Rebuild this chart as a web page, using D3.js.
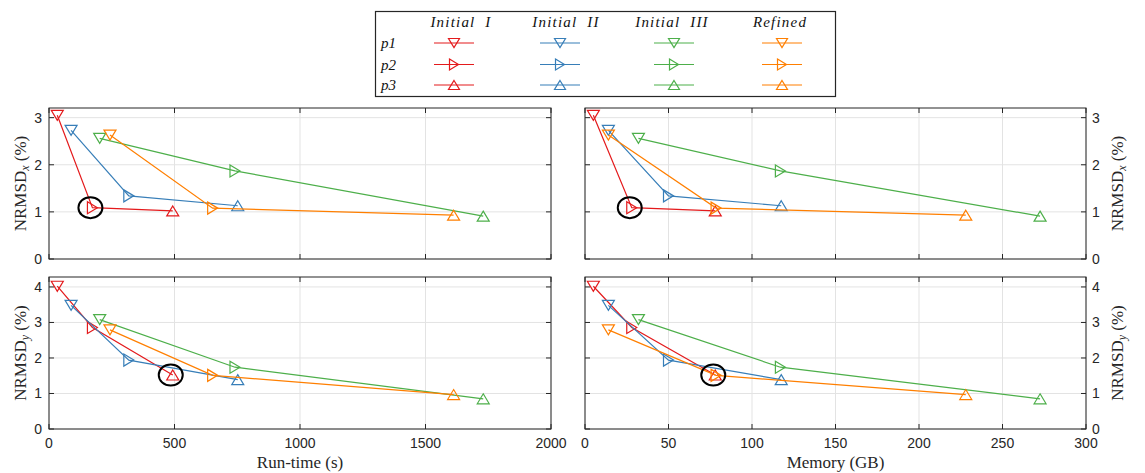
<!DOCTYPE html>
<html>
<head>
<meta charset="utf-8">
<script src="https://cdn.jsdelivr.net/npm/d3@7"></script>
<style>
  body { margin: 0; background: #fff; }
  svg { display: block; }
</style>
</head>
<body>
<div id="chart"></div>
<script>
// series and values
const seriesNames = ["Initial  I", "Initial  II", "Initial  III", "Refined"];
const pointNames = ["p1", "p2", "p3"];
const colors = ["#e41a1c", "#377eb8", "#4daf4a", "#ff7f00"];

// run-time (s) per series, points p1..p3
const runtime = [[33, 173, 493], [88, 318, 752], [202, 741, 1730], [243, 652, 1612]];
// memory (GB)
const memory = [[5, 28, 78], [14, 50, 117.5], [32, 117, 272.5], [14, 78.5, 228]];
// NRMSD_x (%)
const nrmsdX = [[3.05, 1.09, 1.02], [2.73, 1.34, 1.13], [2.56, 1.87, 0.91], [2.63, 1.08, 0.93]];
// NRMSD_y (%)
const nrmsdY = [[4.02, 2.86, 1.52], [3.48, 1.94, 1.39], [3.08, 1.74, 0.85], [2.79, 1.51, 0.97]];

const runTicks = [0, 500, 1000, 1500, 2000];
const memTicks = [0, 50, 100, 150, 200, 250, 300];
const xTicksY = [0, 1, 2, 3];
const yTicksY = [0, 1, 2, 3, 4];

// circled points: [series, point]
const circled = [[0, 1], [0, 1], [0, 2], [0, 2]];

const W = 1145, H = 473;
const svg = d3.select("#chart").append("svg")
    .attr("width", W)
    .attr("height", H);

const axisColor = "#262626";
const tickFont = "'Liberation Sans', Arial, sans-serif";
const serif = "'Liberation Serif', 'Times New Roman', serif";

// triangle marker path, dir = down / right / up
function tri(dir, w, h) {
    if (dir === "down") return `M${-w / 2},${-h / 2}L${w / 2},${-h / 2}L0,${h / 2}Z`;
    if (dir === "up") return `M0,${-h / 2}L${w / 2},${h / 2}L${-w / 2},${h / 2}Z`;
    return `M${-h / 2},${-w / 2}L${h / 2},0L${-h / 2},${w / 2}Z`;
}
const dirs = ["down", "right", "up"];

const panels = [
    { left: 49, right: 551, top: 108, bottom: 259, xs: runtime, ys: nrmsdX, xDom: [0, 2000], yDom: [0, 3.205], xt: runTicks, yt: xTicksY, side: "left", xLabels: false, sub: "x", circ: circled[0] },
    { left: 585, right: 1086, top: 108, bottom: 259, xs: memory, ys: nrmsdX, xDom: [0, 300], yDom: [0, 3.205], xt: memTicks, yt: xTicksY, side: "right", xLabels: false, sub: "x", circ: circled[1] },
    { left: 49, right: 551, top: 277, bottom: 429, xs: runtime, ys: nrmsdY, xDom: [0, 2000], yDom: [0, 4.28], xt: runTicks, yt: yTicksY, side: "left", xLabels: true, sub: "y", xTitle: "Run-time (s)", circ: circled[2] },
    { left: 585, right: 1086, top: 277, bottom: 429, xs: memory, ys: nrmsdY, xDom: [0, 300], yDom: [0, 4.28], xt: memTicks, yt: yTicksY, side: "right", xLabels: true, sub: "y", xTitle: "Memory (GB)", circ: circled[3] }
];

panels.forEach(p => {
    const x = d3.scaleLinear().domain(p.xDom).range([p.left, p.right]);
    const y = d3.scaleLinear().domain(p.yDom).range([p.bottom, p.top]);
    const g = svg.append("g");

    // grid
    g.append("g").selectAll("line.vx")
        .data(p.xt)
        .join("line")
        .attr("x1", d => x(d)).attr("x2", d => x(d))
        .attr("y1", p.top).attr("y2", p.bottom)
        .attr("stroke", "#e3e3e3").attr("stroke-width", 1);
    g.append("g").selectAll("line.hy")
        .data(p.yt)
        .join("line")
        .attr("x1", p.left).attr("x2", p.right)
        .attr("y1", d => y(d)).attr("y2", d => y(d))
        .attr("stroke", "#e3e3e3").attr("stroke-width", 1);

    // inward ticks on all four sides
    const tl = 5;
    g.append("g").selectAll("line")
        .data(p.xt)
        .join("line")
        .attr("x1", d => x(d)).attr("x2", d => x(d))
        .attr("y1", p.bottom).attr("y2", p.bottom - tl)
        .attr("stroke", axisColor);
    g.append("g").selectAll("line")
        .data(p.xt)
        .join("line")
        .attr("x1", d => x(d)).attr("x2", d => x(d))
        .attr("y1", p.top).attr("y2", p.top + tl)
        .attr("stroke", axisColor);
    g.append("g").selectAll("line")
        .data(p.yt)
        .join("line")
        .attr("x1", p.left).attr("x2", p.left + tl)
        .attr("y1", d => y(d)).attr("y2", d => y(d))
        .attr("stroke", axisColor);
    g.append("g").selectAll("line")
        .data(p.yt)
        .join("line")
        .attr("x1", p.right).attr("x2", p.right - tl)
        .attr("y1", d => y(d)).attr("y2", d => y(d))
        .attr("stroke", axisColor);

    // box
    g.append("rect")
        .attr("x", p.left).attr("y", p.top)
        .attr("width", p.right - p.left).attr("height", p.bottom - p.top)
        .attr("fill", "none").attr("stroke", axisColor).attr("stroke-width", 1);

    // y tick labels
    g.append("g").selectAll("text")
        .data(p.yt)
        .join("text")
        .attr("x", p.side === "left" ? p.left - 7 : p.right + 6)
        .attr("y", d => y(d) + 5)
        .attr("text-anchor", p.side === "left" ? "end" : "start")
        .attr("font-family", tickFont).attr("font-size", 14)
        .attr("fill", axisColor)
        .text(d => d);

    // x tick labels
    if (p.xLabels) {
        g.append("g").selectAll("text")
            .data(p.xt)
            .join("text")
            .attr("x", d => x(d))
            .attr("y", p.bottom + 19)
            .attr("text-anchor", "middle")
            .attr("font-family", tickFont).attr("font-size", 14)
            .attr("fill", axisColor)
            .text(d => d);
        g.append("text")
            .attr("x", (p.left + p.right) / 2)
            .attr("y", p.bottom + 39)
            .attr("text-anchor", "middle")
            .attr("font-family", serif).attr("font-size", 17)
            .attr("fill", axisColor)
            .text(p.xTitle);
    }

    // y title
    const lx = p.side === "left" ? 20 : 1117;
    const ly = (p.top + p.bottom) / 2;
    const yt = g.append("text")
        .attr("transform", `translate(${lx + 6},${ly}) rotate(-90)`)
        .attr("text-anchor", "middle")
        .attr("font-family", serif).attr("font-size", 17)
        .attr("fill", axisColor);
    yt.append("tspan").text("NRMSD");
    yt.append("tspan").attr("font-style", "italic").attr("font-size", 12).attr("dy", 3).text(p.sub);
    yt.append("tspan").attr("dy", -3).text(" (%)");

    // lines and markers
    const line = d3.line().x(d => x(d[0])).y(d => y(d[1]));
    seriesNames.forEach((s, i) => {
        const pts = p.xs[i].map((v, j) => [v, p.ys[i][j]]);
        g.append("path")
            .datum(pts)
            .attr("d", line)
            .attr("fill", "none")
            .attr("stroke", colors[i])
            .attr("stroke-width", 1.2);
        g.append("g").selectAll("path")
            .data(pts)
            .join("path")
            .attr("transform", d => `translate(${x(d[0])},${y(d[1])})`)
            .attr("d", (d, j) => tri(dirs[j], 12, 10))
            .attr("fill", "none")
            .attr("stroke", colors[i])
            .attr("stroke-width", 1.2);
    });

    // highlight circle
    const [ci, cj] = p.circ;
    g.append("ellipse")
        .attr("cx", x(p.xs[ci][cj]) - 2)
        .attr("cy", y(p.ys[ci][cj]))
        .attr("rx", 12).attr("ry", 10.5)
        .attr("fill", "none")
        .attr("stroke", "#000")
        .attr("stroke-width", 2);
});

// legend
const lg = svg.append("g");
lg.append("rect")
    .attr("x", 375.5).attr("y", 11.5)
    .attr("width", 460).attr("height", 85)
    .attr("fill", "#fff").attr("stroke", axisColor).attr("stroke-width", 1.2);

const colCenters = [454, 560, 674, 782];
const headCenters = [461, 566, 672, 780];
const rowY = [43, 64.5, 85];

lg.selectAll("text.head")
    .data(seriesNames)
    .join("text")
    .attr("x", (d, i) => headCenters[i])
    .attr("y", 27)
    .attr("text-anchor", "middle")
    .attr("font-family", serif).attr("font-style", "italic").attr("font-size", 15)
    .attr("letter-spacing", 1.2)
    .attr("xml:space", "preserve")
    .attr("fill", "#111")
    .text(d => d);

lg.selectAll("text.row")
    .data(pointNames)
    .join("text")
    .attr("x", 381)
    .attr("y", (d, j) => rowY[j] + 5)
    .attr("font-family", serif).attr("font-style", "italic").attr("font-size", 15)
    .attr("fill", "#111")
    .text(d => d);

seriesNames.forEach((s, i) => {
    pointNames.forEach((pn, j) => {
        const cx = colCenters[i], cy = rowY[j];
        lg.append("line")
            .attr("x1", cx - 20).attr("x2", cx + 20)
            .attr("y1", cy).attr("y2", cy)
            .attr("stroke", colors[i]).attr("stroke-width", 1.2);
        lg.append("path")
            .attr("transform", `translate(${cx},${cy})`)
            .attr("d", tri(dirs[j], 11, 9))
            .attr("fill", "none")
            .attr("stroke", colors[i]).attr("stroke-width", 1.2);
    });
});
</script>
</body>
</html>
